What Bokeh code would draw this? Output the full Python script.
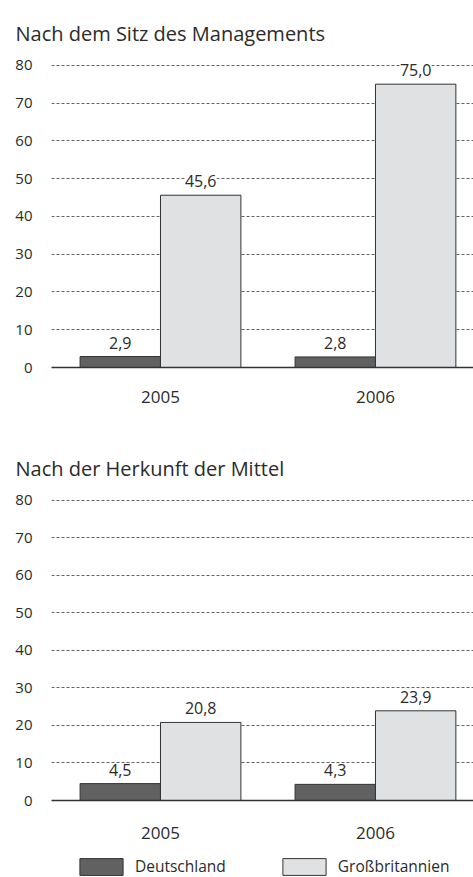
from bokeh.plotting import figure
from bokeh.models import ColumnDataSource, Range1d, FixedTicker, LabelSet, Legend, LegendItem
from bokeh.core.properties import value
from bokeh.layouts import column
from bokeh.transform import dodge
from bokeh.embed import file_html
from bokeh.resources import INLINE

# ---- data ----
years = [2005, 2006]
year_labels = ["2005", "2006"]
series = ["Deutschland", "Großbritannien"]
mgmt_de = [2.9, 2.8]
mgmt_gb = [45.6, 75.0]
funds_de = [4.5, 4.3]
funds_gb = [20.8, 23.9]
y_ticks = [0, 10, 20, 30, 40, 50, 60, 70, 80]
titles = ["Nach dem Sitz des Managements", "Nach der Herkunft der Mittel"]

FONT = "Open Sans"
TXT = "#2b2b2b"
DARK = "#616161"
LIGHT = "#e0e1e3"
EDGE = "#333333"
BAR_W = 0.374
OFF = 0.187


def fmt(v):
    return f"{v:.1f}".replace(".", ",")


def make_src(de, gb):
    return ColumnDataSource(dict(
        year=years, de=de, gb=gb,
        de_lab=[fmt(v) for v in de], gb_lab=[fmt(v) for v in gb]))


def make_fig(title, src, height, b_top, b_bottom, label_standoff):
    p = figure(width=473, height=height, output_backend="svg", toolbar_location=None,
               x_range=Range1d(2004.493, 2006.456), y_range=Range1d(0, 81),
               min_border_left=51, min_border_right=0,
               min_border_top=b_top, min_border_bottom=b_bottom,
               outline_line_color=None, background_fill_color="white",
               border_fill_color="white")
    p.title.text = title
    p.title.text_font = FONT
    p.title.text_font_size = "20px"
    p.title.text_font_style = "normal"
    p.title.text_color = TXT
    p.title.align = "left"
    p.title.offset = -36
    p.title.standoff = 30

    p.vbar(x=dodge("year", -OFF), top="de", width=BAR_W, source=src,
           fill_color=DARK, line_color=EDGE, line_width=1)
    p.vbar(x=dodge("year", OFF), top="gb", width=BAR_W, source=src,
           fill_color=LIGHT, line_color=EDGE, line_width=1)

    for col, lab, off in (("de", "de_lab", -OFF), ("gb", "gb_lab", OFF)):
        ls = LabelSet(x=dodge("year", off), y=col, text=lab, source=src,
                      text_align="center", text_baseline="bottom", y_offset=8,
                      text_font=value(FONT), text_font_size=value("16px"),
                      text_color=TXT,
                      background_fill_color="white", background_fill_alpha=1.0)
        p.add_layout(ls)

    # axes
    xa = p.xaxis[0]
    xa.ticker = FixedTicker(ticks=years)
    xa.major_label_overrides = {y: l for y, l in zip(years, year_labels)}
    xa.major_tick_line_color = None
    xa.minor_tick_line_color = None
    xa.axis_line_color = EDGE
    xa.axis_line_width = 1.3
    xa.major_label_standoff = label_standoff
    xa.major_label_text_font = FONT
    xa.major_label_text_font_size = "17px"
    xa.major_label_text_color = TXT

    ya = p.yaxis[0]
    ya.ticker = FixedTicker(ticks=y_ticks)
    ya.axis_line_color = None
    ya.major_tick_line_color = None
    ya.minor_tick_line_color = None
    ya.major_label_standoff = 13
    ya.major_label_text_font = FONT
    ya.major_label_text_font_size = "15px"
    ya.major_label_text_color = TXT

    p.xgrid.grid_line_color = None
    p.ygrid.ticker = FixedTicker(ticks=y_ticks[1:])
    p.ygrid.grid_line_color = "#3a3a3a"
    p.ygrid.grid_line_width = 0.8
    p.ygrid.grid_line_dash = "3 2"
    return p


src1 = make_src(mgmt_de, mgmt_gb)
src2 = make_src(funds_de, funds_gb)
p1 = make_fig(titles[0], src1, height=420, b_top=61, b_bottom=53, label_standoff=17)
p2 = make_fig(titles[1], src2, height=425, b_top=76, b_bottom=45, label_standoff=20)

# legend strip (series renderers kept outside its visible range; only the legend shows)
p3 = figure(width=473, height=32, output_backend="svg", toolbar_location=None,
            x_axis_type=None, y_axis_type=None,
            x_range=Range1d(0, 1), y_range=Range1d(-2, -1),
            min_border_left=0, min_border_right=0, min_border_top=0, min_border_bottom=0,
            outline_line_color=None, border_fill_color="white", background_fill_color="white")
p3.grid.visible = False
g1 = p3.vbar(x="year", top="de", width=BAR_W, source=src2, fill_color=DARK, line_color=EDGE, line_width=1)
g2 = p3.vbar(x="year", top="gb", width=BAR_W, source=src2, fill_color=LIGHT, line_color=EDGE, line_width=1)
lg = Legend(items=[LegendItem(label=series[0], renderers=[g1]),
                   LegendItem(label=series[1], renderers=[g2])],
            orientation="horizontal", location=(23, 0),
            glyph_width=54, glyph_height=21, label_standoff=7, spacing=51,
            padding=0, margin=0, border_line_color=None,
            background_fill_alpha=0, label_text_font=FONT,
            label_text_font_size="15.5px", label_text_color=TXT)
p3.add_layout(lg)

layout = column(p1, p2, p3, spacing=0)
open("out.html", "w").write(file_html(layout, INLINE))
